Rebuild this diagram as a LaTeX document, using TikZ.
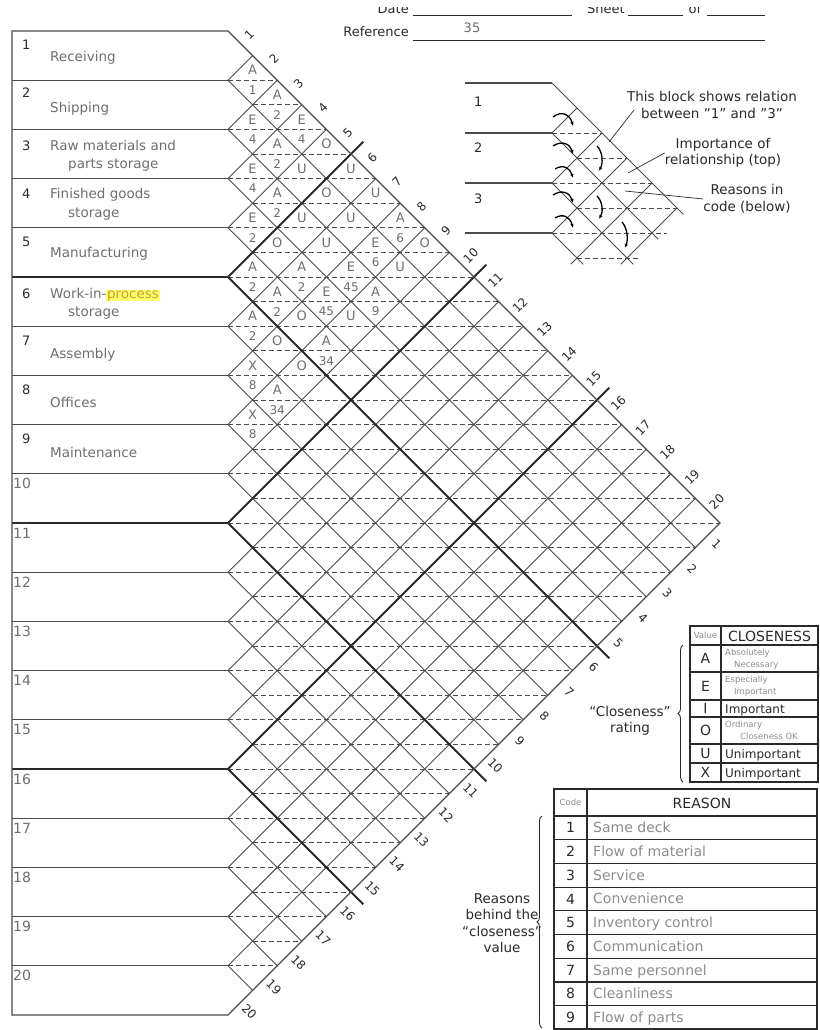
\documentclass[tikz,border=0pt]{standalone}
\usepackage{fontspec}
\setmainfont{DejaVu Sans}
\usetikzlibrary{arrows.meta, calc, decorations.pathreplacing}
\definecolor{cInk}{HTML}{2A2A2A}
\definecolor{cGrid}{HTML}{4A4A4A}
\definecolor{cTxt}{HTML}{6E6E6E}
\definecolor{cSoft}{HTML}{8C8C8C}
\definecolor{cHi}{HTML}{FFFF70}
\definecolor{cHiTxt}{HTML}{C9A227}
\newcommand{\hilite}[1]{{\setlength{\fboxsep}{0.6pt}\colorbox{cHi}{\textcolor{cHiTxt}{#1}}}}

\begin{document}
\begin{tikzpicture}[x=1pt, y=-1pt,
  grid/.style={draw=cGrid, line width=0.9pt},
  major/.style={draw=cInk, line width=1.9pt},
  rowline/.style={draw=cGrid, line width=1.1pt},
  half/.style={draw=cGrid, line width=0.8pt, dash pattern=on 5pt off 3pt},
  rate/.style={font=\fontsize{13}{13}\selectfont, text=cTxt, inner sep=0pt},
  why/.style={font=\fontsize{12}{12}\selectfont, text=cTxt, inner sep=0pt},
  tick/.style={font=\fontsize{12}{12}\selectfont, text=cInk, inner sep=0pt},
  rowlbl/.style={font=\fontsize{13.5}{15}\selectfont, text=cTxt, anchor=base west, inner sep=0pt},
  rownum/.style={font=\fontsize{13}{15}\selectfont, text=cInk, anchor=base west, inner sep=0pt},
  rownumb/.style={font=\fontsize{14}{15}\selectfont, text=cTxt, anchor=base west, inner sep=0pt},
  note/.style={font=\fontsize{13.5}{16.5}\selectfont, text=cInk, align=center, inner sep=0pt},
  hdr/.style={font=\fontsize{13}{15}\selectfont, text=cInk, inner sep=0pt},
  lead/.style={draw=cInk, line width=0.7pt},
  flick/.style={draw=black, line width=1.3pt, -{Latex[length=4pt, width=3.5pt]}},
  tab/.style={draw=cInk, line width=1.2pt},
  tval/.style={font=\fontsize{14}{14}\selectfont, text=cInk, inner sep=0pt},
  tsmall/.style={font=\fontsize{8.5}{9}\selectfont, text=cSoft, anchor=base west, inner sep=0pt},
  tword/.style={font=\fontsize{12}{12}\selectfont, text=cInk, anchor=base west, inner sep=0pt},
  treason/.style={font=\fontsize{14}{14}\selectfont, text=cSoft, anchor=base west, inner sep=0pt},
  brc/.style={draw=cInk, line width=0.9pt, decorate, decoration={brace, amplitude=5pt}}]
  \useasboundingbox (0,0) rectangle (819,1030);

  % header (its top is cut off in the form)
  \begin{scope}
    \clip (0,8) rectangle (819,60);
    \node[hdr, anchor=base east] (dt) at (409,14) {Date};
    \draw[lead] (413,15) -- (572,15);
    \node[hdr, anchor=base] (sh) at (606,14) {Sheet};
    \draw[lead] (628,15) -- (683,15);
    \node[hdr, anchor=base] (of) at (695,14) {of};
    \draw[lead] (707,15) -- (765,15);
  \end{scope}
  \node[hdr, anchor=base east] (rf) at (409,37) {Reference};
  \draw[lead] (413,40) -- (765,40);
  \node[hdr, text=cTxt, anchor=base] (r35) at (472,33) {35};

  % chart grid
  \foreach \k in {1,...,19} \draw[rowline] (12,{31+49.2*\k}) -- (228,{31+49.2*\k});
  \foreach \m in {2,...,38} {
    \pgfmathsetmacro\ma{mod(\m,2)}
    \pgfmathsetmacro\mb{min(\m,40-\m)}
    \draw[half] ({228+24.6*\ma},{31+24.6*\m}) -- ({228+24.6*\mb},{31+24.6*\m});
  }
  \foreach \k in {1,...,19} {
    \draw[grid] (228,{31+49.2*\k}) -- ({228+24.6*\k},{31+24.6*\k});
    \draw[grid] (228,{31+49.2*\k}) -- ({228+24.6*(20-\k)},{31+24.6*(20+\k)});
  }
  \foreach \k in {5,10,15} {
    \draw[major] (12,{31+49.2*\k}) -- (228,{31+49.2*\k});
    \draw[major] (228,{31+49.2*\k}) -- ({228+24.6*(\k+0.5)},{31+24.6*(\k-0.5)});
    \draw[major] (228,{31+49.2*\k}) -- ({228+24.6*(20.5-\k)},{31+24.6*(20.5+\k)});
  }
  \draw[rowline] (12,31) -- (228,31) -- (720,523) -- (228,1015) -- (12,1015) -- cycle;

  % column numbers
  \foreach \j in {1,...,20} {
    \node[tick, rotate=45] (tt\j) at ({237+24.6*(\j-0.5)},{22+24.6*(\j-0.5)}) {\j};
    \node[tick, rotate=-45] (tb\j) at ({237+24.6*(20.5-\j)},{40+24.6*(19.5+\j)}) {\j};
  }

  % ratings (top) and reasons (bottom)
  \foreach \i/\j/\r/\c in {1/2/A/1, 1/3/A/2, 1/4/E/4, 1/5/O/{}, 1/6/U/{}, 1/7/U/{}, 1/8/A/6, 1/9/O/{},
      2/3/E/4, 2/4/A/2, 2/5/U/{}, 2/6/O/{}, 2/7/U/{}, 2/8/E/6, 2/9/U/{},
      3/4/E/4, 3/5/A/2, 3/6/U/{}, 3/7/U/{}, 3/8/E/45, 3/9/A/9,
      4/5/E/2, 4/6/O/{}, 4/7/A/2, 4/8/E/45, 4/9/U/{},
      5/6/A/2, 5/7/A/2, 5/8/O/{}, 5/9/A/34,
      6/7/A/2, 6/8/O/{}, 6/9/O/{},
      7/8/X/8, 7/9/A/34, 8/9/X/8} {
    \node[rate] (r\i-\j) at ({228+24.6*(\j-\i)},{31+24.6*(\i+\j-1)-10}) {\r};
    \node[why] (w\i-\j) at ({228+24.6*(\j-\i)},{31+24.6*(\i+\j-1)+10}) {\c};
  }

  % activities
  \foreach \k/\b in {1/50, 2/98, 3/150, 4/198, 5/246, 6/298, 7/345, 8/394, 9/443}
    \node[rownum] (n\k) at (22,\b) {\k};
  \foreach \k in {10,...,20}
    \node[rownumb] (n\k) at (13,{31+49.2*(\k-1)+15}) {\k};
  \node[rowlbl] (a1) at (50,62) {Receiving};
  \node[rowlbl] (a2) at (50,113) {Shipping};
  \node[rowlbl] (a3) at (50,150) {Raw materials and};
  \node[rowlbl] (a3b) at (68,168) {parts storage};
  \node[rowlbl] (a4) at (50,198) {Finished goods};
  \node[rowlbl] (a4b) at (68,217) {storage};
  \node[rowlbl] (a5) at (50,257) {Manufacturing};
  \node[rowlbl] (a6) at (50,298) {Work-in-\hilite{process}};
  \node[rowlbl] (a6b) at (68,316) {storage};
  \node[rowlbl] (a7) at (50,358) {Assembly};
  \node[rowlbl] (a8) at (50,407) {Offices};
  \node[rowlbl] (a9) at (50,457) {Maintenance};

  % example block
  \draw[rowline] (465,83) -- (552,83);
  \foreach \y in {133,183,233} \draw[rowline] (465,\y) -- (552,\y);
  \foreach \xa/\yb/\xb in {0/2/2, 1/3/3, 0/4/4, 1/5/5, 0/6/4.6, 1/7/3.5}
    \draw[half] ({552+25*\xa},{83+25*\yb}) -- ({552+25*\xb},{83+25*\yb});
  \draw[grid] (552,83) -- ({552+25*5.25},{83+25*5.25});
  \foreach \xa/\ya/\xb/\yb in {0/2/1/1, 0/4/2/2, 0/6/3/3, 0.75/7.25/4/4, 2.75/7.25/5/5,
      0/2/4.25/6.25, 0/4/3.25/7.25, 0/6/1.25/7.25}
    \draw[grid] ({552+25*\xa},{83+25*\ya}) -- ({552+25*\xb},{83+25*\yb});
  \node[rownum] (e1) at (474,107) {1};
  \node[rownum] (e2) at (474,153) {2};
  \node[rownum] (e3) at (474,203) {3};
  \draw[flick] (553,117) .. controls (562,110) and (570,115) .. (573,126);
  \draw[flick] (553,146) .. controls (562,140) and (570,144) .. (573,154);
  \draw[flick] (555,169) .. controls (563,164) and (570,168) .. (573,178);
  \draw[flick] (553,195) .. controls (562,189) and (570,193) .. (573,203);
  \draw[flick] (555,218) .. controls (563,213) and (570,217) .. (573,228);
  \draw[flick] (597,146) .. controls (603,152) and (603,163) .. (599,171);
  \draw[flick] (597,196) .. controls (603,202) and (603,212) .. (599,219);
  \draw[flick] (622,222) .. controls (628,229) and (628,240) .. (625,248);
  \node[note] (nb) at (712,105) {This block shows relation\\between "1" and "3"};
  \node[note] (ni) at (723,153) {Importance of\\relationship (top)};
  \node[note] (nr) at (747,199) {Reasons in\\code (below)};
  \coordinate (nbx) at ($(nb.west)+(7,5)$);
  \coordinate (pb) at (609,142);
  \coordinate (pi) at (628,173);
  \coordinate (pr) at (625,191);
  \draw[lead] (nbx) -- (pb);
  \draw[lead] (ni.west) -- (pi);
  \draw[lead] (nr.west) -- (pr);

  % closeness table
  \draw[tab] (690,626) rectangle (818,782);
  \draw[tab] (721,626) -- (721,782);
  \foreach \y in {645,672,700,717,744,763} \draw[tab] (690,\y) -- (818,\y);
  \node[tsmall, anchor=center] (hv) at (705.5,635.5) {Value};
  \node[tval] (hc) at (769.5,636) {CLOSENESS};
  \foreach \v/\y in {A/658.5, E/686, I/708.5, O/730.5, U/753.5, X/772.5}
    \node[tval] (v\v) at (705.5,\y) {\v};
  \node[tsmall] (dA) at (725,655) {Absolutely};
  \node[tsmall] (dAb) at (734,667) {Necessary};
  \node[tsmall] (dE) at (725,682) {Especially};
  \node[tsmall] (dEb) at (734,694) {Important};
  \node[tword] (dI) at (725,713) {Important};
  \node[tsmall] (dO) at (725,727) {Ordinary};
  \node[tsmall] (dOb) at (740,739) {Closeness OK};
  \node[tword] (dU) at (725,758) {Unimportant};
  \node[tword] (dX) at (725,777) {Unimportant};
  \draw[brc] (683,782) -- (683,645);
  \node[note] (cr) at (630,721) {“Closeness”\\rating};

  % reason table
  \draw[tab] (554,789) rectangle (817,1029);
  \draw[tab] (587,789) -- (587,1029);
  \foreach \k in {0,...,8} \draw[tab] (554,{816+23.7*\k}) -- (817,{816+23.7*\k});
  \node[tsmall, anchor=center] (hcode) at (570.5,802.5) {Code};
  \node[tval] (hr) at (702,803) {REASON};
  \foreach \n/\t in {1/Same deck, 2/Flow of material, 3/Service, 4/Convenience,
      5/Inventory control, 6/Communication, 7/Same personnel, 8/Cleanliness, 9/Flow of parts} {
    \node[tval] (c\n) at (570.5,{816+23.7*(\n-0.5)}) {\n};
    \node[treason] (t\n) at (593,{816+23.7*(\n-0.5)+5}) {\t};
  }
  \draw[brc] (542,1028) -- (542,816);
  \node[note] (rb) at (502,923) {Reasons\\behind the\\“closeness”\\value};
\end{tikzpicture}
\end{document}
